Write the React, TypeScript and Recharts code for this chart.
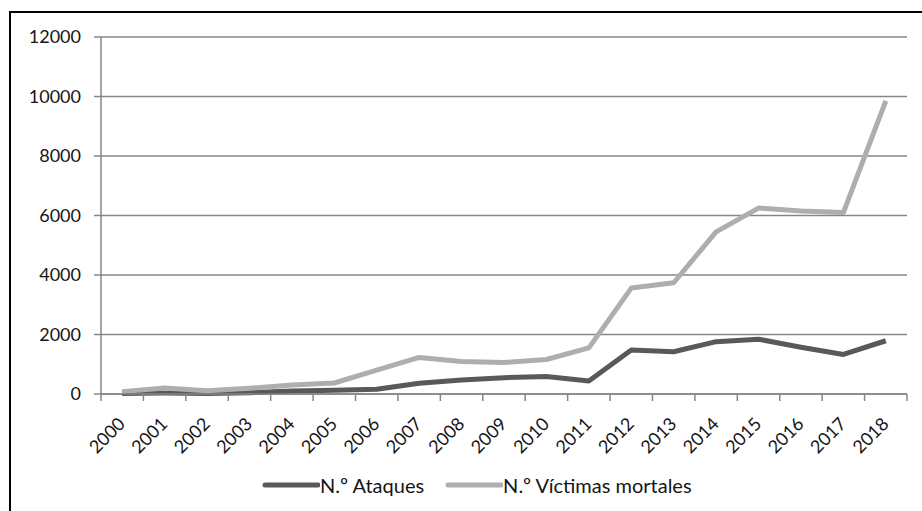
import { LineChart, Line, XAxis, YAxis, CartesianGrid, Legend } from "recharts";

const years = [
  "2000", "2001", "2002", "2003", "2004", "2005", "2006", "2007", "2008", "2009",
  "2010", "2011", "2012", "2013", "2014", "2015", "2016", "2017", "2018",
];
const ataques = [
  20, 30, 20, 40, 100, 130, 160, 360, 470, 550, 590, 440, 1480, 1420, 1760,
  1840, 1570, 1330, 1790,
];
const victimas = [
  80, 200, 110, 190, 300, 370, 800, 1230, 1090, 1060, 1160, 1550, 3560, 3740,
  5450, 6250, 6150, 6100, 9850,
];
const yTicks = [0, 2000, 4000, 6000, 8000, 10000, 12000];

const seriesNames = ["N.º Ataques", "N.º Víctimas mortales"];
const COLORS = ["#595959", "#aeaeae"];

const data = years.map((year, i) => ({
  year,
  ataques: ataques[i],
  victimas: victimas[i],
}));

const W = 922;
const H = 511;
const LEFT = 101;
const RIGHT = 15;
const PLOT_W = W - LEFT - RIGHT;
const HALF = PLOT_W / years.length / 2;
const FONT = "Lato";
const GRID = "#868686";
const TEXT = "#151515";

// tick marks sit between categories, like the original spreadsheet chart
const XTick = ({ x, y, payload, index }: any) => (
  <g>
    <line x1={x - HALF} y1={y} x2={x - HALF} y2={y + 7} stroke={GRID} strokeWidth={1.5} />
    {index === years.length - 1 && (
      <line x1={x + HALF} y1={y} x2={x + HALF} y2={y + 7} stroke={GRID} strokeWidth={1.5} />
    )}
    <text
      x={x + 4}
      y={y + 31}
      textAnchor="end"
      fontSize={18}
      fontFamily={FONT}
      fill={TEXT}
      transform={`rotate(-45, ${x + 4}, ${y + 31})`}
    >
      {payload.value}
    </text>
  </g>
);

const LegendContent = () => (
  <div
    style={{
      display: "flex",
      alignItems: "center",
      paddingLeft: 262,
      fontFamily: FONT,
      fontSize: 20,
      color: TEXT,
    }}
  >
    {seriesNames.map((name, i) => (
      <div key={name} style={{ display: "flex", alignItems: "center", marginRight: 21 }}>
        <svg width={58} height={10}>
          <line x1={3} y1={5} x2={56} y2={5} stroke={COLORS[i]} strokeWidth={5} strokeLinecap="round" />
        </svg>
        <span>{name}</span>
      </div>
    ))}
  </div>
);

export default function App() {
  return (
    <div
      style={{
        position: "absolute",
        left: 0,
        top: 0,
        width: W,
        height: H,
        overflow: "hidden",
        background: "#fff",
      }}
    >
      <div
        style={{
          position: "absolute",
          left: 9,
          top: 11,
          width: 940,
          height: 540,
          border: "2px solid #000",
        }}
      />
      <LineChart
        width={W}
        height={H}
        data={data}
        margin={{ top: 37, right: RIGHT, left: 0, bottom: 0 }}
      >
        <CartesianGrid vertical={false} stroke={GRID} strokeWidth={1.5} />
        <XAxis
          dataKey="year"
          height={H - 394}
          padding={{ left: HALF, right: HALF }}
          axisLine={{ stroke: GRID, strokeWidth: 1.5 }}
          tickLine={false}
          tickSize={0}
          tickMargin={0}
          interval={0}
          tick={<XTick />}
        />
        <YAxis
          width={LEFT}
          domain={[0, 12000]}
          ticks={yTicks}
          interval={0}
          axisLine={{ stroke: GRID, strokeWidth: 1.5 }}
          tickLine={{ stroke: GRID, strokeWidth: 1.5 }}
          tickSize={7}
          tickMargin={13}
          tick={{ fontSize: 18, fontFamily: FONT, fill: TEXT }}
        />
        <Legend
          verticalAlign="middle"
          align="center"
          content={<LegendContent />}
          wrapperStyle={{ top: 473, left: 0, width: W }}
        />
        <Line
          name={seriesNames[0]}
          dataKey="ataques"
          type="linear"
          stroke={COLORS[0]}
          strokeWidth={5}
          strokeLinejoin="round"
          dot={false}
          isAnimationActive={false}
        />
        <Line
          name={seriesNames[1]}
          dataKey="victimas"
          type="linear"
          stroke={COLORS[1]}
          strokeWidth={5}
          strokeLinejoin="round"
          dot={false}
          isAnimationActive={false}
        />
      </LineChart>
    </div>
  );
}
